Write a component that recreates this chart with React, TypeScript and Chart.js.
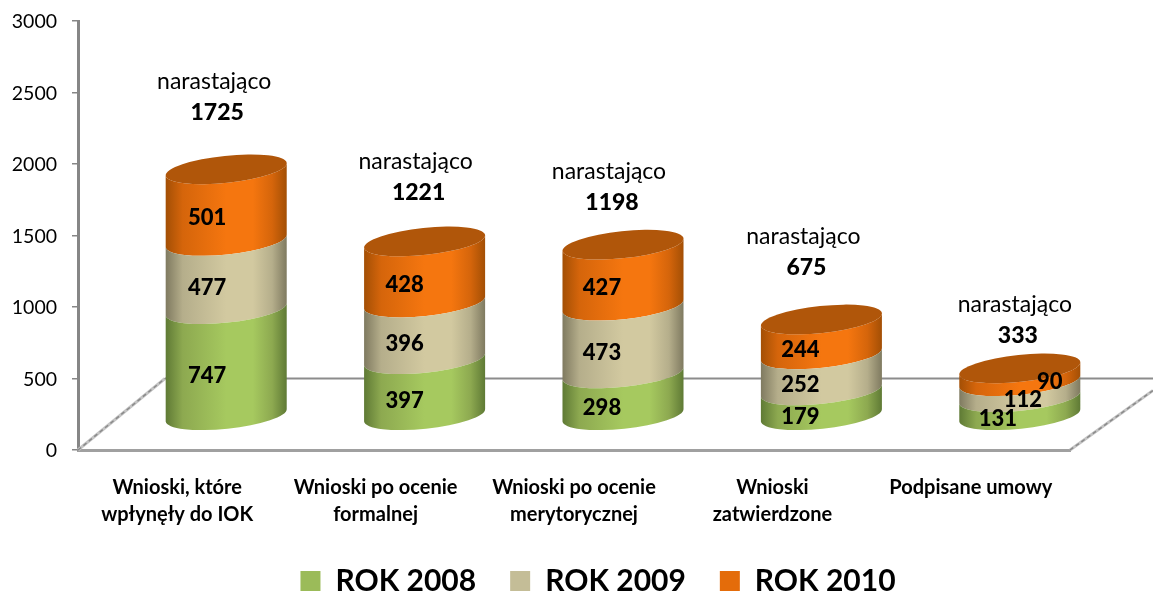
import React, { useEffect, useRef } from "react";
import { Chart, registerables } from "chart.js";

Chart.register(...registerables);

const categories = [
  ["Wnioski, które", "wpłynęły do IOK"],
  ["Wnioski po ocenie", "formalnej"],
  ["Wnioski po ocenie", "merytorycznej"],
  ["Wnioski", "zatwierdzone"],
  ["Podpisane umowy"],
];
const rok2008 = [747, 397, 298, 179, 131];
const rok2009 = [477, 396, 473, 252, 112];
const rok2010 = [501, 428, 427, 244, 90];
const totals = [1725, 1221, 1198, 675, 333];
const noteLabel = "narastająco";
const seriesNames = ["ROK 2008", "ROK 2009", "ROK 2010"];
const seriesValues = [rok2008, rok2009, rok2010];
const FONT = "Lato, 'Open Sans', sans-serif";

// styling of the cylinders
const legendColors = ["#9BBB59", "#C4BD97", "#E46C0A"];
const shades = [
  { edge: "#5F7A35", soft: "#8DA950", mid: "#A6C95F" },
  { edge: "#7F7A60", soft: "#B5AE8B", mid: "#D2C9A0" },
  { edge: "#A34F05", soft: "#D5650B", mid: "#F5760F" },
];
const CAP = "#B0560A";
const DEPTH_X = 49; // cylinders stand in the middle of the 3-D floor
const DEPTH_Y = -34;
const WALL_X = 87;
const RY = 13.5;
const TILT = (-6 * Math.PI) / 180;
const NOTE_DX = [-12, -9, -14, -18, -5];
const NOTE_DY = [-122, -114, -107, -117, -98];
const LABEL_DX = [
  [-19, -19, -19],
  [-20, -20, -20],
  [-21, -21, -21],
  [-21, -21, -21],
  [-22, 3, 30],
];
const LABEL_DY = [
  [14, 13, 13],
  [14, 13, 13],
  [14, 13, 13],
  [14, 13, 13],
  [13, 11, 7],
];

const scenePlugin = {
  id: "scene",
  afterLayout(chart: any) {
    const lg = chart.legend;
    lg.left += 63;
    lg.right += 63;
    lg.top -= 10;
    lg.height += 60;
    lg.bottom = lg.top + lg.height;
  },
  beforeDatasetsDraw(chart: any) {
    const { ctx, chartArea: a, scales } = chart;
    const yWall = scales.y.getPixelForValue(500);
    ctx.save();
    ctx.strokeStyle = "#8C8C8C";
    ctx.lineWidth = 2;
    ctx.beginPath();
    ctx.moveTo(a.left + WALL_X, yWall);
    ctx.lineTo(1153, yWall);
    ctx.stroke();
    const slant = (x0: number, x1: number, y1: number) => {
      ctx.lineWidth = 3;
      ctx.strokeStyle = "#C4C4C4";
      ctx.setLineDash([]);
      ctx.beginPath();
      ctx.moveTo(x0, a.bottom);
      ctx.lineTo(x1, y1);
      ctx.stroke();
      ctx.lineWidth = 1.5;
      ctx.strokeStyle = "#8A8A8A";
      ctx.setLineDash([4, 3]);
      ctx.beginPath();
      ctx.moveTo(x0, a.bottom);
      ctx.lineTo(x1, y1);
      ctx.stroke();
      ctx.setLineDash([]);
    };
    slant(a.left, a.left + WALL_X, yWall);
    slant(a.right, 1153, yWall + 12);
    ctx.restore();
  },
  beforeDatasetDraw(chart: any, args: any) {
    const { ctx } = chart;
    const idx = args.index;
    const meta = chart.getDatasetMeta(idx);
    meta.data.forEach((bar: any) => {
      const p = bar.getProps(["x", "y", "base", "width"], true);
      const cx = p.x + DEPTH_X;
      const rx = p.width / 2 / Math.cos(TILT);
      const top = p.y + DEPTH_Y;
      const bottom = p.base + DEPTH_Y;
      const left = cx - p.width / 2;
      const right = cx + p.width / 2;
      const g = ctx.createLinearGradient(left, 0, right, 0);
      g.addColorStop(0, shades[idx].edge);
      g.addColorStop(0.14, shades[idx].soft);
      g.addColorStop(0.5, shades[idx].mid);
      g.addColorStop(0.72, shades[idx].mid);
      g.addColorStop(0.88, shades[idx].soft);
      g.addColorStop(1, shades[idx].edge);
      ctx.save();
      ctx.fillStyle = g;
      ctx.beginPath();
      ctx.ellipse(cx, bottom, rx, RY, TILT, 0, Math.PI, false);
      ctx.ellipse(cx, top, rx, RY, TILT, Math.PI, 0, true);
      ctx.closePath();
      ctx.fill();
      if (idx === seriesValues.length - 1) {
        ctx.fillStyle = CAP;
        ctx.beginPath();
        ctx.ellipse(cx, top, rx, RY, TILT, 0, Math.PI * 2);
        ctx.fill();
      }
      ctx.restore();
    });
    return false;
  },
  afterDatasetsDraw(chart: any) {
    const { ctx, scales } = chart;
    ctx.save();
    ctx.textAlign = "center";
    ctx.textBaseline = "middle";
    ctx.fillStyle = "#000";
    seriesValues.forEach((values, s) => {
      const meta = chart.getDatasetMeta(s);
      values.forEach((v, i) => {
        const bar = meta.data[i].getProps(["x", "y", "base"], true);
        ctx.font = `900 22px ${FONT}`;
        ctx.fillText(
          String(v),
          bar.x + DEPTH_X + LABEL_DX[i][s],
          (bar.y + bar.base) / 2 + DEPTH_Y + LABEL_DY[i][s]
        );
      });
    });
    totals.forEach((t, i) => {
      const x = scales.x.getPixelForValue(i) + DEPTH_X + NOTE_DX[i];
      const y = scales.y.getPixelForValue(t) + NOTE_DY[i];
      ctx.font = `23px ${FONT}`;
      ctx.fillText(noteLabel, x, y);
      ctx.font = `900 23px ${FONT}`;
      ctx.fillText(String(t), x + 3, y + 31);
    });
    ctx.restore();
  },
};

export default function App() {
  const ref = useRef<HTMLCanvasElement>(null);
  useEffect(() => {
    const chart = new Chart(ref.current as HTMLCanvasElement, {
      type: "bar",
      data: {
        labels: categories as any,
        datasets: seriesValues.map((values, i) => ({
          label: seriesNames[i],
          data: values,
          backgroundColor: legendColors[i],
          borderWidth: 0,
          stack: "all",
        })),
      },
      options: {
        animation: false,
        responsive: false,
        layout: { padding: { top: 21, right: 83, left: 0, bottom: 0 } },
        datasets: { bar: { barPercentage: 0.61, categoryPercentage: 1 } },
        plugins: {
          tooltip: { enabled: false },
          legend: {
            position: "bottom",
            maxHeight: 51,
            labels: {
              boxWidth: 20,
              boxHeight: 20,
              padding: 34,
              color: "#000",
              font: { family: FONT, size: 30, weight: "bold" },
            },
          },
        },
        scales: {
          x: {
            stacked: true,
            grid: { display: false },
            border: { color: "#A0A0A0", width: 3 },
            afterFit: (s: any) => {
              s.height = 92;
              s.paddingLeft = 0;
              s.paddingRight = 0;
            },
            ticks: {
              color: "#000",
              padding: 16,
              maxRotation: 0,
              autoSkip: false,
              font: { family: FONT, size: 20, weight: "bold", lineHeight: 1.35 },
            },
          },
          y: {
            stacked: true,
            min: 0,
            max: 3000,
            afterFit: (s: any) => {
              s.width = 78;
              s.paddingTop = 0;
              s.paddingBottom = 0;
            },
            grid: { drawOnChartArea: false, color: "#868686", tickLength: 6, lineWidth: 1.5 },
            border: { color: "#868686", width: 3 },
            ticks: {
              stepSize: 500,
              color: "#000",
              padding: 15,
              labelOffset: 1,
              callback: (v: any) => String(v),
              font: { family: FONT, size: 19.5 },
            },
          },
        },
      },
      plugins: [scenePlugin],
    } as any);
    return () => chart.destroy();
  }, []);
  return (
    <div style={{ position: "absolute", left: 0, top: 0, width: 1153, height: 593 }}>
      <canvas ref={ref} width={1153} height={593} style={{ display: "block" }} />
    </div>
  );
}
